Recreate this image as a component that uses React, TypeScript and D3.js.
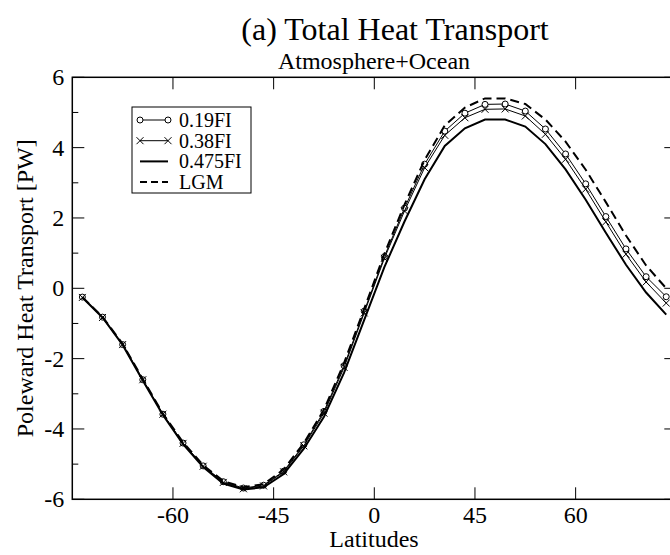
import React from "react";
import * as d3 from "d3";

const lat = [-87, -81, -75, -69, -63, -57, -51, -45, -39, -33, -27, -21, -15, -9, -3, 3, 9, 15, 21, 27, 33, 39, 45, 51, 57, 63, 69, 75, 81, 87];
const fi019 = [-0.25, -0.82, -1.6, -2.6, -3.58, -4.4, -5.05, -5.5, -5.68, -5.6, -5.2, -4.45, -3.5, -2.2, -0.65, 0.9, 2.28, 3.53, 4.47, 4.98, 5.23, 5.24, 5.04, 4.53, 3.82, 2.97, 2.04, 1.12, 0.33, -0.24];
const fi038 = [-0.26, -0.83, -1.6, -2.6, -3.58, -4.41, -5.06, -5.52, -5.7, -5.62, -5.22, -4.48, -3.55, -2.25, -0.7, 0.85, 2.2, 3.43, 4.35, 4.85, 5.09, 5.1, 4.9, 4.38, 3.67, 2.82, 1.89, 0.97, 0.18, -0.42];
const fi0475 = [-0.26, -0.83, -1.61, -2.62, -3.6, -4.43, -5.08, -5.55, -5.72, -5.66, -5.28, -4.56, -3.65, -2.4, -0.9, 0.6, 1.9, 3.1, 4.05, 4.55, 4.8, 4.8, 4.6, 4.1, 3.38, 2.52, 1.58, 0.67, -0.12, -0.75];
const lgm = [-0.25, -0.81, -1.58, -2.58, -3.56, -4.38, -5.03, -5.48, -5.66, -5.57, -5.15, -4.4, -3.45, -2.12, -0.58, 0.98, 2.38, 3.65, 4.63, 5.14, 5.4, 5.4, 5.24, 4.8, 4.17, 3.37, 2.45, 1.5, 0.65, 0.0];

const xTickVals = [-60, -30, 0, 30, 60];
const xTickLabels = ["-60", "-45", "0", "45", "60"];
const yMajor = [-6, -4, -2, 0, 2, 4, 6];
const yMinor = [-5, -3, -1, 1, 3, 5];
const seriesNames = ["0.19FI", "0.38FI", "0.475FI", "LGM"];

const FONT = "'Liberation Serif', 'Times New Roman', serif";

export default function App() {
  const W = 670, H = 555;
  const L = 72.3, R = 676.3, T = 77.3, B = 499.3;
  const x = d3.scaleLinear().domain([-90, 90]).range([L, R]);
  const y = d3.scaleLinear().domain([-6, 6]).range([B, T]);
  const line = d3.line<number>().x((_, i) => x(lat[i])).y((d) => y(d));

  const series = [
    { name: seriesNames[0], vals: fi019, width: 1, dash: "", marker: "circle" },
    { name: seriesNames[1], vals: fi038, width: 1, dash: "", marker: "cross" },
    { name: seriesNames[2], vals: fi0475, width: 2, dash: "", marker: "none" },
    { name: seriesNames[3], vals: lgm, width: 2, dash: "9,5", marker: "none" },
  ];

  const marker = (kind: string, cx: number, cy: number, key: string) => {
    if (kind === "circle")
      return <circle key={key} cx={cx} cy={cy} r={3} fill="white" stroke="black" strokeWidth={1} />;
    if (kind === "cross") {
      const s = 3.5;
      return (
        <path key={key} d={`M${cx - s},${cy - s}L${cx + s},${cy + s}M${cx - s},${cy + s}L${cx + s},${cy - s}`} stroke="black" strokeWidth={1} fill="none" />
      );
    }
    return null;
  };

  const legX = 132, legY = 107, legW = 119, legH = 86;
  const rowY = (i: number) => legY + 13 + i * 20.7;

  return (
    <svg width={W} height={H} style={{ position: "absolute", left: 0, top: 0, background: "white" }} fontFamily={FONT}>
      <defs>
        <clipPath id="plotclip">
          <rect x={L} y={T} width={R - L} height={B - T} />
        </clipPath>
      </defs>
      <rect x={0} y={0} width={W} height={H} fill="white" />
      <text x={395} y={40} fontSize={32} textAnchor="middle">(a) Total Heat Transport</text>
      <text x={374} y={69} fontSize={24} textAnchor="middle">Atmosphere+Ocean</text>

      <g clipPath="url(#plotclip)">
        {series.map((s) => (
          <g key={s.name}>
            <path d={line(s.vals) || ""} fill="none" stroke="black" strokeWidth={s.width} strokeDasharray={s.dash} />
            {s.vals.map((v, i) => marker(s.marker, x(lat[i]), y(v), s.name + i))}
          </g>
        ))}
      </g>

      {/* frame */}
      <rect x={L} y={T} width={R - L} height={B - T} fill="none" stroke="black" strokeWidth={1.5} />
      {xTickVals.map((v, i) => (
        <g key={"xt" + v}>
          <line x1={x(v)} x2={x(v)} y1={B} y2={B - 12} stroke="black" strokeWidth={1} />
          <line x1={x(v)} x2={x(v)} y1={T} y2={T + 12} stroke="black" strokeWidth={1} />
          <text x={x(v)} y={523} fontSize={24} textAnchor="middle">{xTickLabels[i]}</text>
        </g>
      ))}
      {yMajor.map((v) => (
        <g key={"yt" + v}>
          <line x1={L} x2={L + 12} y1={y(v)} y2={y(v)} stroke="black" strokeWidth={1} />
          <line x1={R} x2={R - 12} y1={y(v)} y2={y(v)} stroke="black" strokeWidth={1} />
          <text x={L - 8} y={y(v) + 8} fontSize={24} textAnchor="end">{String(v)}</text>
        </g>
      ))}
      {yMinor.map((v) => (
        <g key={"ym" + v}>
          <line x1={L} x2={L + 6} y1={y(v)} y2={y(v)} stroke="black" strokeWidth={1} />
          <line x1={R} x2={R - 6} y1={y(v)} y2={y(v)} stroke="black" strokeWidth={1} />
        </g>
      ))}
      <text x={374} y={547} fontSize={24} textAnchor="middle">Latitudes</text>
      <text transform={`translate(33,${(T + B) / 2}) rotate(-90)`} fontSize={24} textAnchor="middle">Poleward Heat Transport [PW]</text>

      {/* legend */}
      <rect x={legX} y={legY} width={legW} height={legH} fill="white" stroke="black" strokeWidth={1} />
      {series.map((s, i) => {
        const cy = rowY(i);
        return (
          <g key={"leg" + s.name}>
            <line x1={140} x2={168} y1={cy} y2={cy} stroke="black" strokeWidth={s.width} strokeDasharray={s.dash ? "7,4" : ""} />
            {marker(s.marker, 140, cy, "lm1" + i)}
            {marker(s.marker, 168, cy, "lm2" + i)}
            <text x={179} y={cy + 7} fontSize={20}>{s.name}</text>
          </g>
        );
      })}
    </svg>
  );
}
